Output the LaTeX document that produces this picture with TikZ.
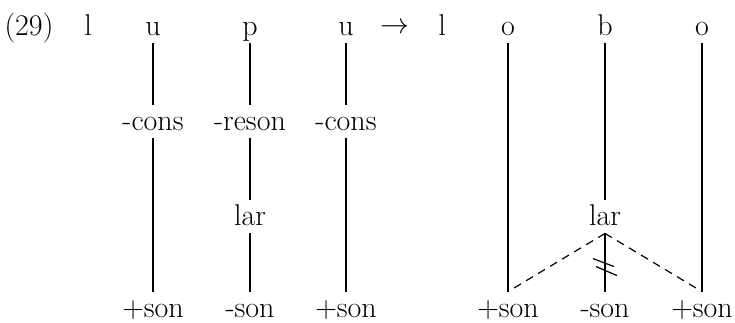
\documentclass[tikz,border=0pt]{standalone}
\usetikzlibrary{calc}
\tikzstyle{seg}=[anchor=base, inner sep=1.5pt, text height=11pt, text depth=2.5pt, font=\fontsize{15}{18}\selectfont]
\tikzstyle{bottom}=[seg, text depth=0pt]
\tikzstyle{assoc}=[line width=0.6pt]
\tikzstyle{delink}=[line width=0.6pt, dash pattern=on 4pt off 3pt]

\begin{document}
\begin{tikzpicture}[x=0.5pt,y=-0.5pt]
\useasboundingbox (0,0) rectangle (735,322);
% input
\node [seg] (num) at (29,35) {(29)};
\node [seg] (l1) at (88,35) {l};
\node [seg] (u1) at (153,35) {u};
\node [seg] (p1) at (250,35) {p};
\node [seg] (u2) at (346,35) {u};
\node [seg] (arr) at (395,33) {$\rightarrow$};
\node [seg] (cons1) at (153,130) {-cons};
\node [seg] (reson) at (250,130) {-reson};
\node [seg] (cons2) at (346,130) {-cons};
\node [seg] (lar1) at (250,225) {lar};
\node [bottom] (son1) at (153,317) {+son};
\node [bottom] (son2) at (250,317) {-son};
\node [bottom] (son3) at (346,317) {+son};
% output
\node [seg] (l2) at (442,35) {l};
\node [seg] (o1) at (508,35) {o};
\node [seg] (b1) at (605,35) {b};
\node [seg] (o2) at (702,35) {o};
\node [seg] (lar2) at (605,225) {lar};
\node [bottom] (son4) at (508,317) {+son};
\node [bottom] (son5) at (605,317) {-son};
\node [bottom] (son6) at (702,317) {+son};

\draw [assoc] (u1) -- (cons1) -- (son1);
\draw [assoc] (p1) -- (reson) -- (lar1) -- (son2);
\draw [assoc] (u2) -- (cons2) -- (son3);
\draw [assoc] (o1) -- (son4);
\draw [assoc] (b1) -- (lar2) -- (son5);
\draw [assoc] (o2) -- (son6);
\draw [delink] (lar2.south) -- (son4.north);
\draw [delink] (lar2.south) -- (son6.north);
% cut marks
\coordinate (cut) at ($(lar2.south)!0.57!(son5.north)$);
\draw [assoc] ([shift={(-12,-8)}]cut) -- ++(21,8);
\draw [assoc] ([shift={(-9,0)}]cut) -- ++(21,9);
\end{tikzpicture}
\end{document}
